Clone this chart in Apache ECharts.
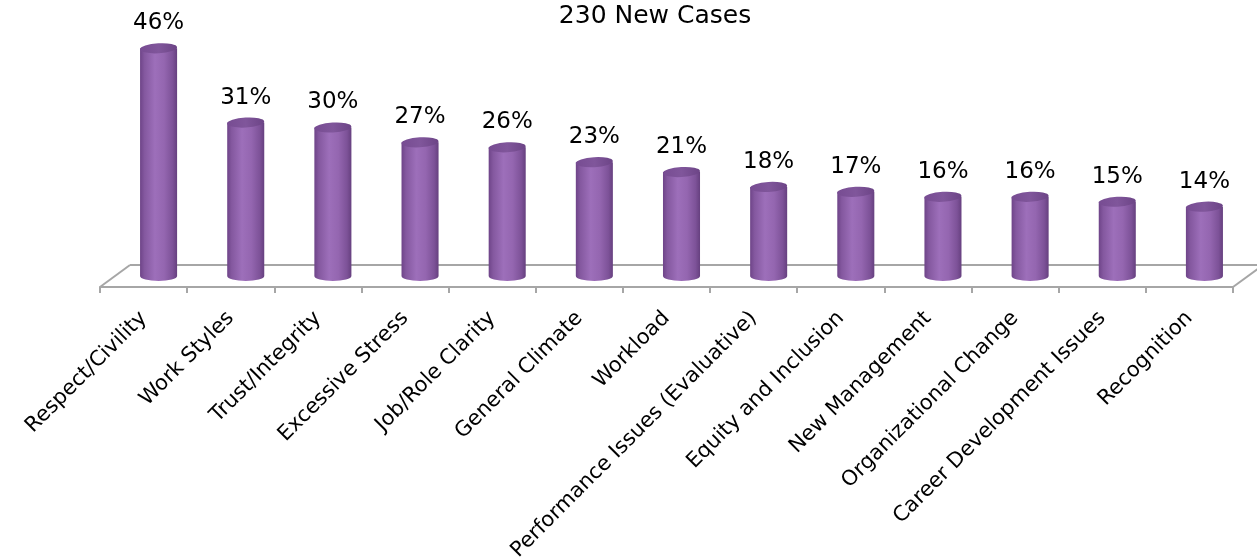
<!DOCTYPE html>
<html>
<head>
<meta charset="utf-8">
<script src="https://cdn.jsdelivr.net/npm/echarts@6/dist/echarts.min.js"></script>
<style>
html,body{margin:0;padding:0;background:#fff;}
#chart{width:1257px;height:560px;}
</style>
</head>
<body>
<div id="chart"></div>
<script>
const titleText = '230 New Cases';
const categories = ['Respect/Civility','Work Styles','Trust/Integrity','Excessive Stress','Job/Role Clarity','General Climate','Workload','Performance Issues (Evaluative)','Equity and Inclusion','New Management','Organizational Change','Career Development Issues','Recognition'];
const values = [46,31,30,27,26,23,21,18,17,16,16,15,14];

const FONT = 'DejaVu Sans';
const DX = 15, DY = -11;      // cylinder depth offset
const BX = 30, BY = -22;      // floor back edge offset

const chart = echarts.init(document.getElementById('chart'), null, {renderer:'canvas'});

function ellipsePath(cx, cy, rx, ry) {
  return `M ${cx-rx} ${cy} A ${rx} ${ry} 0 1 0 ${cx+rx} ${cy} A ${rx} ${ry} 0 1 0 ${cx-rx} ${cy} Z`;
}

const option = {
  backgroundColor:'#ffffff',
  animation:false,
  title:{
    text:titleText, left:650, top:0, textAlign:'center', padding:[4,5],
    textStyle:{fontFamily:FONT, fontSize:25, fontWeight:'normal', color:'#000'}
  },
  grid:{left:100, right:24, top:39.5, bottom:273, containLabel:false, outerBoundsMode:'none'},
  xAxis:{
    type:'category', data:categories,
    axisLine:{show:true, lineStyle:{color:'#a6a6a6', width:2}},
    axisTick:{show:true, length:6, lineStyle:{color:'#a6a6a6', width:2}},
    axisLabel:{interval:0, rotate:45, margin:28, fontFamily:FONT, fontSize:21, color:'#000'}
  },
  yAxis:{type:'value', min:0, max:50, show:false, splitLine:{show:false}},
  series:[
    {
      type:'custom', silent:true, z:1,
      data:[[0,0]],
      renderItem(params, api){
        const n = categories.length;
        const half = api.size([1,0])[0]/2;
        const p0 = api.coord([0,0]);
        const p1 = api.coord([n-1,0]);
        const xl = p0[0]-half, xr = p1[0]+half, y = p0[1];
        const ls = {stroke:'#a6a6a6', lineWidth:2, fill:null};
        return {type:'group', children:[
          {type:'line', shape:{x1:xl, y1:y, x2:xl+BX, y2:y+BY}, style:ls},
          {type:'line', shape:{x1:xl+BX, y1:y+BY, x2:xr+BX, y2:y+BY}, style:ls},
          {type:'line', shape:{x1:xr, y1:y, x2:xr+BX, y2:y+BY}, style:ls}
        ]};
      }
    },
    {
      type:'custom', z:3,
      data: values.map((v,i)=>[i,v]),
      renderItem(params, api){
        const i = api.value(0), v = api.value(1);
        const top = api.coord([i, v]);
        const base = api.coord([i, 0]);
        const w = api.size([1,0])[0]*0.425;
        const rx = w/2, ry = 5;
        const cx = base[0]+DX, by = base[1]+DY, ty = top[1]+DY;
        const bodyGrad = new echarts.graphic.LinearGradient(0,0,1,0,[
          {offset:0, color:'#6e4488'},
          {offset:0.12, color:'#84589f'},
          {offset:0.4, color:'#9d6fba'},
          {offset:0.65, color:'#9466b0'},
          {offset:0.88, color:'#7d5298'},
          {offset:1, color:'#66407f'}
        ]);
        const topGrad = new echarts.graphic.LinearGradient(0,0,1,0,[
          {offset:0, color:'#774c92'},
          {offset:0.5, color:'#80569b'},
          {offset:1, color:'#6c4486'}
        ]);
        const body = `M ${cx-rx} ${ty} L ${cx-rx} ${by} A ${rx} ${ry} 0 0 0 ${cx+rx} ${by} L ${cx+rx} ${ty} Z`;
        return {type:'group', children:[
          {type:'path', shape:{pathData:body}, style:{fill:bodyGrad}},
          {type:'path', shape:{pathData:ellipsePath(cx, ty, rx, ry)}, rotation:0.06, originX:cx, originY:ty, style:{fill:topGrad}},
          {type:'text', x:cx, y:ty-25, style:{text:v+'%', fontFamily:FONT, fontSize:23, fill:'#000', align:'center', verticalAlign:'middle'}}
        ]};
      }
    }
  ]
};
chart.setOption(option);
</script>
</body>
</html>
